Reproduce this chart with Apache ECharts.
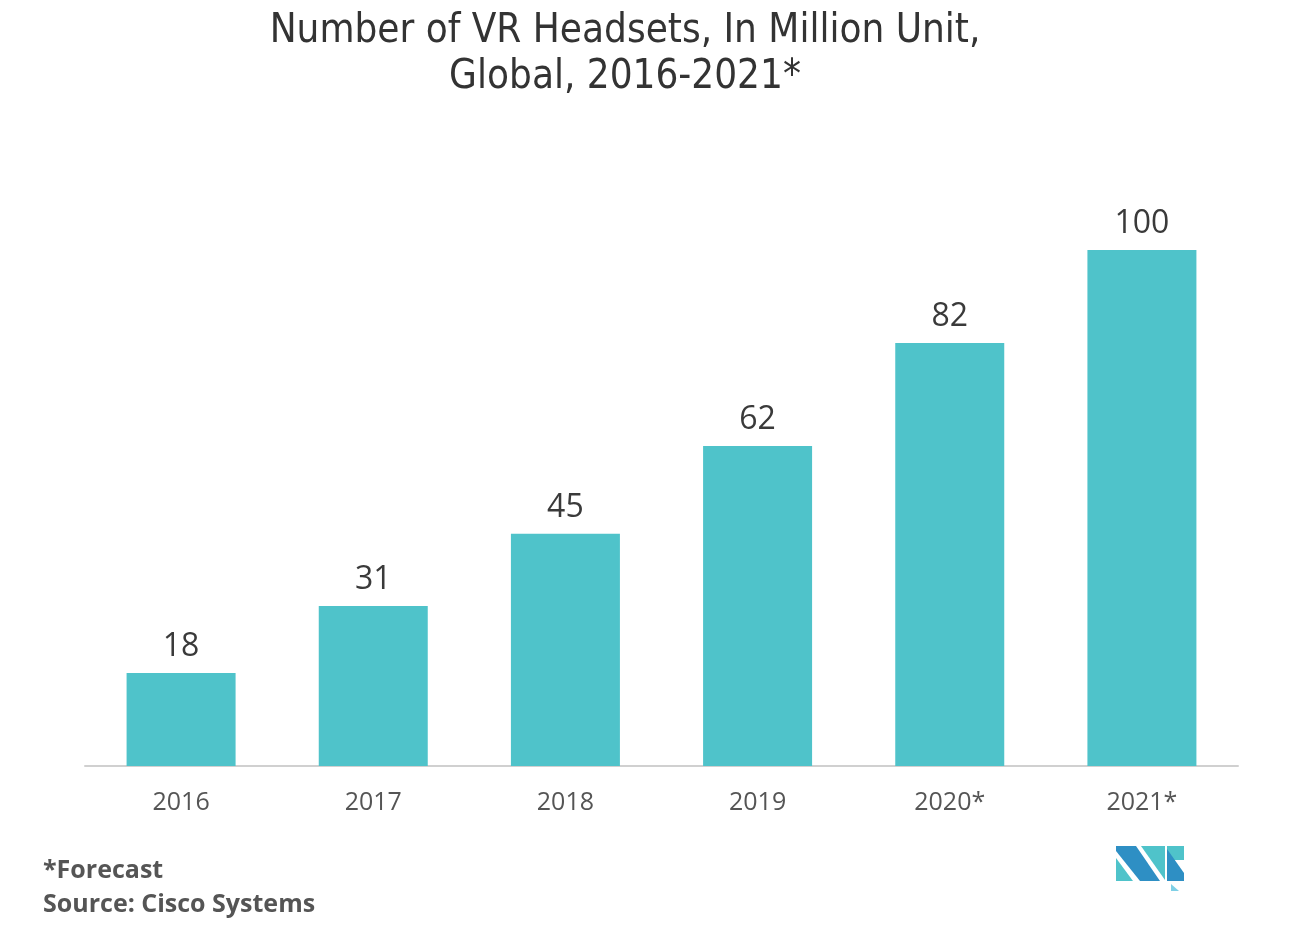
<!DOCTYPE html>
<html>
<head>
<meta charset="utf-8">
<script src="https://cdn.jsdelivr.net/npm/echarts@6/dist/echarts.min.js"></script>
<style>
html,body{margin:0;padding:0;background:#fff;}
#chart{width:1312px;height:938px;}
</style>
</head>
<body>
<div id="chart"></div>
<script>
const categories = ['2016', '2017', '2018', '2019', '2020*', '2021*'];
const values = [18, 31, 45, 62, 82, 100];
const titleLines = ['Number of VR Headsets, In Million Unit,', 'Global, 2016-2021*'];
const footnotes = ['*Forecast', 'Source: Cisco Systems'];

const chart = echarts.init(document.getElementById('chart'));
chart.setOption({
  backgroundColor: '#ffffff',
  animation: false,
  title: {
    text: titleLines.join('\n'),
    left: 620,
    top: 4,
    textAlign: 'center',
    textStyle: {
      fontFamily: 'DejaVu Sans Condensed',
      fontSize: 40,
      fontWeight: 'normal',
      color: '#333333',
      lineHeight: 46
    }
  },
  grid: { left: 85, right: 74, top: 250, bottom: 172 },
  xAxis: {
    type: 'category',
    data: categories,
    axisLine: { lineStyle: { color: '#d0d0d0', width: 2 } },
    axisTick: { show: false },
    axisLabel: {
      margin: 24,
      fontFamily: 'Open Sans',
      fontSize: 25,
      color: '#555555'
    }
  },
  yAxis: {
    type: 'value',
    min: 0,
    max: 100,
    show: false,
    splitLine: { show: false }
  },
  series: [{
    type: 'bar',
    data: values,
    barWidth: 109,
    itemStyle: { color: '#4FC3CA' },
    label: {
      show: true,
      position: 'top',
      distance: 10,
      fontFamily: 'Open Sans',
      fontSize: 32,
      fontWeight: 500,
      color: '#3a3a3a'
    }
  }],
  graphic: [
    {
      type: 'text', left: 43, top: 858,
      style: { text: footnotes[0], font: 'bold 25px "Open Sans"', fill: '#555555' }
    },
    {
      type: 'text', left: 43, top: 892,
      style: { text: footnotes[1], font: 'bold 25px "Open Sans"', fill: '#555555' }
    },
    { type: 'polygon', shape: { points: [[1116,846],[1136,846],[1160,881],[1140,881],[1116,851]] }, style: { fill: '#2E8FC4' } },
    { type: 'polygon', shape: { points: [[1116,858],[1116,881],[1133,881]] }, style: { fill: '#4FC3CA' } },
    { type: 'polygon', shape: { points: [[1141,846],[1165,846],[1165,880]] }, style: { fill: '#4FC3CA' } },
    { type: 'polygon', shape: { points: [[1167,846],[1184,846],[1184,860],[1167,860]] }, style: { fill: '#4FC3CA' } },
    { type: 'polygon', shape: { points: [[1167,849],[1184,873],[1184,881],[1167,881]] }, style: { fill: '#2E8FC4' } },
    { type: 'polygon', shape: { points: [[1171,884],[1171,891],[1179,891]] }, style: { fill: '#7FD0E6' } }
  ]
});
</script>
</body>
</html>
